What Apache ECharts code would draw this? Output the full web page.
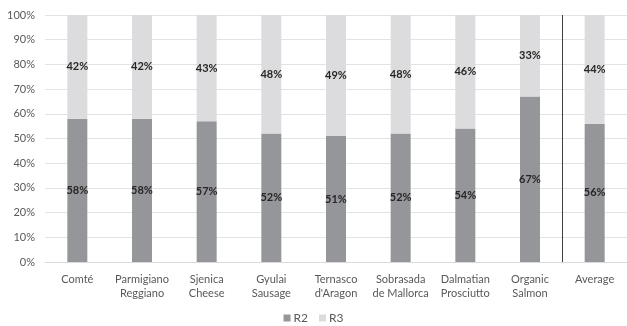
<!DOCTYPE html>
<html><head><meta charset="utf-8">
<script src="https://cdn.jsdelivr.net/npm/echarts@6/dist/echarts.min.js"></script>
<style>html,body{margin:0;padding:0;background:#fff}#c{width:627px;height:326px}</style>
</head><body><div id="c"></div>
<script>
var categories = ['Comté','Parmigiano\nReggiano','Sjenica\nCheese','Gyulai\nSausage','Ternasco\nd\'Aragon','Sobrasada\nde Mallorca','Dalmatian\nProsciutto','Organic\nSalmon','Average'];
var r2 = [58,58,57,52,51,52,54,67,56];
var r3 = [42,42,43,48,49,48,46,33,44];
var yTicks = [0,10,20,30,40,50,60,70,80,90,100];
var dividerAt = [8];

var font = 'Lato';
var chart = echarts.init(document.getElementById('c'));
var lbl = {show:true, position:'inside', formatter:'{c}%', color:'#262626', fontWeight:'bold', fontSize:11, fontFamily:font};
chart.setOption({
  animation:false,
  grid:{left:45, right:0, top:15, bottom:64},
  legend:{top:312, left:'center', padding:0, itemWidth:7, itemHeight:7, itemGap:11, icon:'rect',
    textStyle:{color:'#595959', fontSize:12, fontFamily:font, padding:[0,0,0,-2]}, data:['R2','R3']},
  xAxis:[{type:'category', data:categories,
    axisLine:{lineStyle:{color:'#d9d9d9'}}, axisTick:{show:false},
    axisLabel:{color:'#595959', fontSize:11, fontFamily:font, lineHeight:14, margin:10, interval:0}},
    {type:'value', min:0, max:categories.length, show:false, position:'bottom'}],
  yAxis:{type:'value', min:0, max:100, interval:10,
    axisLabel:{formatter:'{value}%', color:'#595959', fontSize:11, fontFamily:font, margin:10},
    axisLine:{show:false}, axisTick:{show:false},
    splitLine:{lineStyle:{color:'#e3e3e3', width:1}}},
  series:[
    {name:'R2', type:'bar', stack:'s', data:r2, barWidth:20, itemStyle:{color:'#959699'}, label:lbl},
    {name:'R3', type:'bar', stack:'s', data:r3, barWidth:20, itemStyle:{color:'#dcdcde'}, label:lbl},
    {name:'div', type:'line', xAxisIndex:1, data:[], silent:true,
      markLine:{symbol:'none', silent:true, label:{show:false},
        lineStyle:{color:'#404040', type:'solid', width:1},
        data:dividerAt.map(function(v){return {xAxis:v};})}}
  ]
});
</script></body></html>
